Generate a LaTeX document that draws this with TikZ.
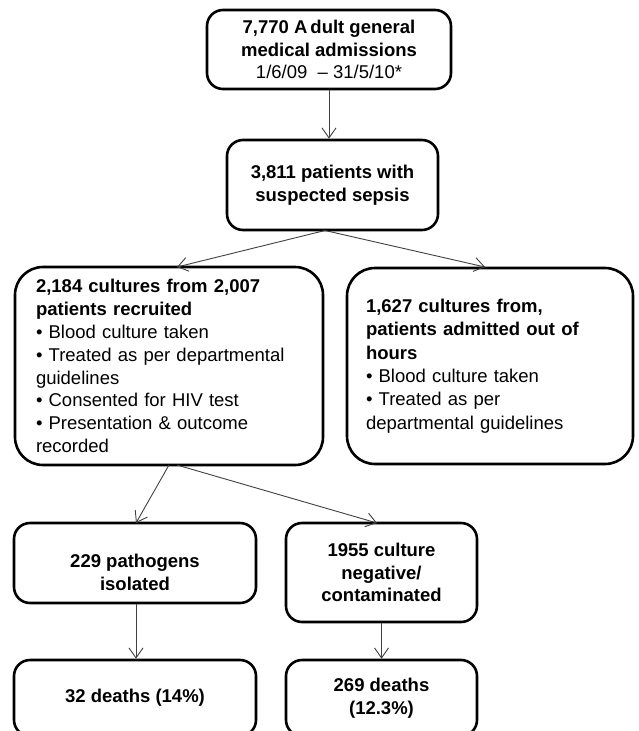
\documentclass[tikz,border=0pt]{standalone}
\usepackage{fontspec}
\setmainfont{Liberation Sans}
\usetikzlibrary{arrows.meta}
\begin{document}
\begin{tikzpicture}[x=1pt,y=-1pt,
 box/.style={draw=black, line width=2.6pt, rounded corners=16pt, inner sep=0pt, font=\fontsize{18.5}{22.8}\selectfont},
 bigbox/.style={box, rounded corners=28pt},
 arr/.style={draw=black!75, line width=0.9pt, -{Straight Barb[length=10pt,width=14pt,line width=0.9pt]}}]
\useasboundingbox (0,0) rectangle (638,731);
\clip (0,0) rectangle (638,731);
\node[box, minimum width=244pt, minimum height=79pt, align=center] (b1) at (329,49.5)
 {\textbf{7,770 A\hspace{3pt}dult general}\\\textbf{medical admissions}\\1/6/09 \ \textendash\ 31/5/10*};
\node[box, minimum width=211pt, minimum height=90pt, align=center] (b2) at (332.5,185)
 {\textbf{3,811 patients with}\\\textbf{suspected sepsis}};
\node[bigbox, minimum width=308pt, minimum height=198pt, text width=266pt, align=left] (b3) at (169,366)
 {\textbf{2,184 cultures from 2,007}\\\textbf{patients recruited}\\• Blood culture taken\\• Treated as per departmental\\guidelines\\• Consented for HIV test\\• Presentation \& outcome\\recorded};
\node[bigbox, minimum width=286pt, minimum height=196pt, text width=248pt, align=left, font=\fontsize{18.5}{23.4}\selectfont] (b4) at (490,366)
 {\textbf{1,627 cultures from,}\\\textbf{patients admitted out of}\\\textbf{hours}\\• Blood culture taken\\• Treated as per\\departmental guidelines};
\node[box, minimum width=242pt, minimum height=80pt,
 label={[name=t5, font=\fontsize{18.5}{22.8}\selectfont, align=center, yshift=-9pt]center:{\textbf{229 pathogens}\\\textbf{isolated}}}] (b5) at (135,563) {};
\node[box, minimum width=191pt, minimum height=99pt, align=center] (b6) at (381.5,572.5)
 {\textbf{1955 culture}\\\textbf{negative/}\\\textbf{contaminated}};
\node[box, minimum width=242pt, minimum height=76pt, align=center] (b7) at (135,698)
 {\raisebox{2pt}{\textbf{32 deaths (14\%)}}};
\node[box, minimum width=191pt, minimum height=76pt, align=center] (b8) at (381.5,698)
 {\textbf{269 deaths}\\\textbf{(12.3\%)}};
\coordinate (s2) at (325,230.5);
\coordinate (e3) at (177,267);
\coordinate (e4) at (485,267);
\coordinate (s3a) at (169,465);
\coordinate (s3b) at (177,465);
\coordinate (e5) at (136,523);
\coordinate (e6) at (377,523);
\draw[arr] (b1.south) -- (b1.south |- b2.north);
\draw[arr] (s2) -- (e3);
\draw[arr] (s2) -- (e4);
\draw[arr] (s3a) -- (e5);
\draw[arr] (s3b) -- (e6);
\draw[arr] (e5 |- b5.south) -- (e5 |- b7.north);
\draw[arr] (b6.south) -- (b8.north);
\end{tikzpicture}
\end{document}
